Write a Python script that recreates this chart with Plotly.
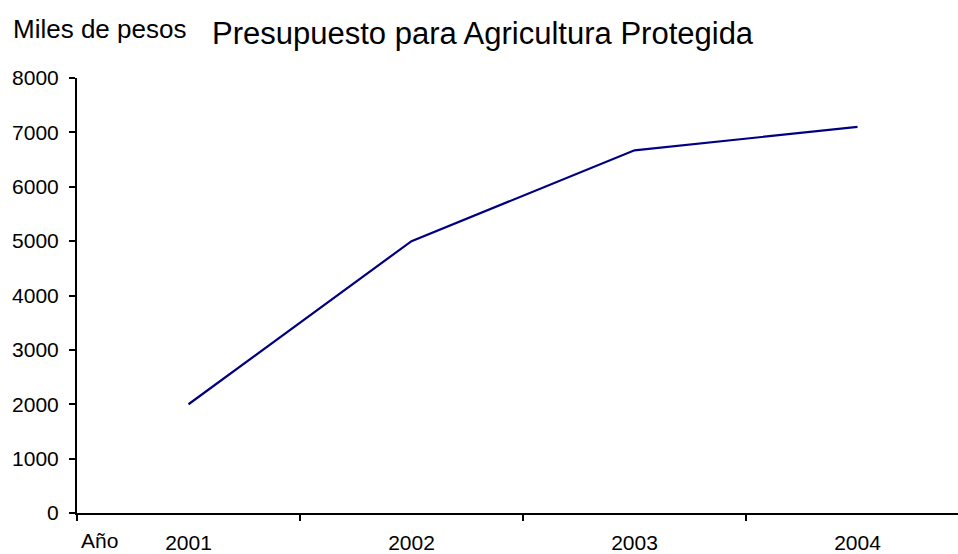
import plotly.graph_objects as go

# Budget for protected agriculture, thousands of pesos
years = ["2001", "2002", "2003", "2004"]
budget = [2000, 5000, 6670, 7100]
y_ticks = [0, 1000, 2000, 3000, 4000, 5000, 6000, 7000, 8000]

FONT = "Liberation Sans, Arial, sans-serif"
W, H = 958, 554
ML, MT, MB = 77, 78, 41
plot_w = W - ML
plot_h = H - MT - MB


def px_x(p):
    return (p - ML) / plot_w


def px_y(p):
    return (H - MB - p) / plot_h


fig = go.Figure(
    go.Scatter(
        x=years,
        y=budget,
        mode="lines",
        line=dict(color="#000080", width=2.2),
        hoverinfo="x+y",
    )
)

fig.update_layout(
    width=W,
    height=H,
    margin=dict(l=ML, r=0, t=MT, b=MB),
    paper_bgcolor="white",
    plot_bgcolor="white",
    showlegend=False,
    font=dict(family=FONT, color="black", size=21),
    xaxis=dict(
        type="category",
        range=[-0.5, -0.5 + plot_w / 223.0],
        tickson="boundaries",
        ticks="outside",
        ticklen=6,
        tickwidth=1.5,
        tickcolor="black",
        showline=True,
        linecolor="black",
        linewidth=2,
        showgrid=False,
        zeroline=False,
        tickfont=dict(size=21),
        ticklabelstandoff=10,
    ),
    yaxis=dict(
        range=[0, 8000],
        tickvals=y_ticks,
        ticks="outside",
        ticklen=6,
        tickwidth=1.5,
        tickcolor="black",
        showline=True,
        linecolor="black",
        linewidth=2,
        showgrid=False,
        zeroline=False,
        tickfont=dict(size=21),
        ticklabelstandoff=6,
    ),
    annotations=[
        dict(
            text="Presupuesto para Agricultura Protegida",
            xref="paper", yref="paper",
            x=px_x(210), y=px_y(33),
            xanchor="left", yanchor="middle",
            showarrow=False,
            font=dict(size=31, family=FONT),
        ),
        dict(
            text="Miles de pesos",
            xref="paper", yref="paper",
            x=px_x(11), y=px_y(29),
            xanchor="left", yanchor="middle",
            showarrow=False,
            font=dict(size=26, family=FONT),
        ),
        dict(
            text="Año",
            xref="paper", yref="paper",
            x=px_x(79), y=px_y(554),
            xanchor="left", yanchor="bottom",
            showarrow=False,
            font=dict(size=21, family=FONT),
        ),
    ],
)

fig.write_html("out.html")
